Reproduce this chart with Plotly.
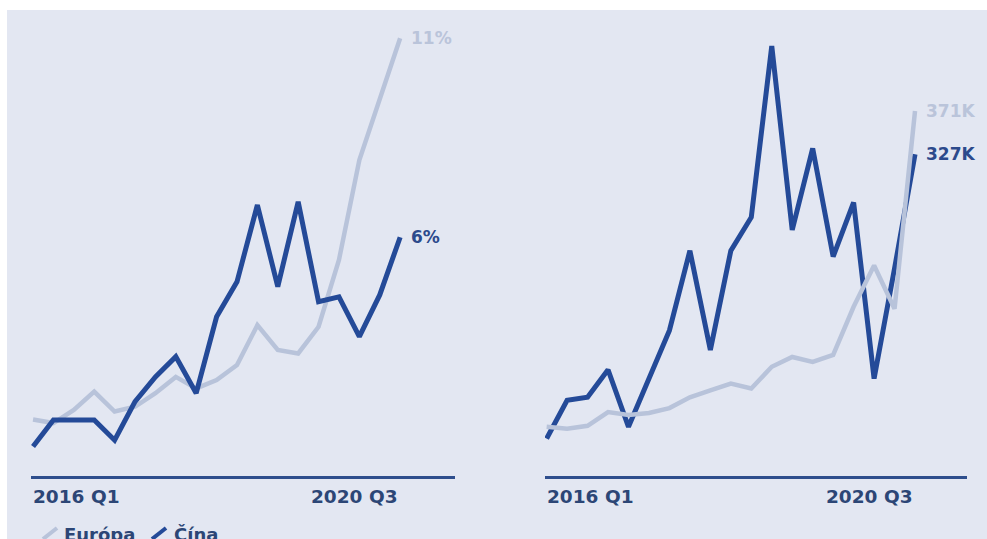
import plotly.graph_objects as go
from plotly.subplots import make_subplots

# Quarterly series, 2016 Q1 - 2020 Q3
quarters = [f"{y} Q{q}" for y in range(2016, 2021) for q in range(1, 5)][:19]

# Left panel: share in %
share_europa = [1.42, 1.33, 1.66, 2.12, 1.62, 1.74, 2.08, 2.49, 2.20, 2.41,
                2.79, 3.79, 3.17, 3.08, 3.75, 5.43, 7.94, 9.45, 11.0]
share_cina = [0.74, 1.41, 1.41, 1.41, 0.90, 1.87, 2.49, 3.00, 2.08, 4.00,
              4.88, 6.81, 4.76, 6.89, 4.38, 4.50, 3.50, 4.55, 6.0]

# Right panel: volume in thousands
volume_europa = [50, 48, 51, 65, 62, 64, 69, 80, 87, 94,
                 89, 111, 121, 116, 123, 172, 214, 170, 371]
volume_cina = [38, 77, 80, 108, 50, 99, 148, 229, 128, 229,
               263, 437, 250, 333, 223, 278, 99, 211, 327]

tick_labels = ["2016 Q1", "2020 Q3"]
series_names = ["Európa", "Čína"]

W, H = 987, 539
BG = "#E3E7F2"
DARK = "#244A98"
LIGHT = "#B8C3DA"
LIGHT_TXT = "#BAC4DA"
DARK_TXT = "#2C4A8C"
AXIS_TXT = "#2C4676"
AXIS_LINE = "#2E4E8D"
FONT = "DejaVu Sans"


def px_x(p):
    return p / W


def px_y(p):
    return (H - p) / H


fig = make_subplots(rows=1, cols=2)

# left panel: light series below, dark on top
fig.add_trace(go.Scatter(x=quarters, y=share_europa, mode="lines", name=series_names[0],
                         line=dict(color=LIGHT, width=4.5), showlegend=False), row=1, col=1)
fig.add_trace(go.Scatter(x=quarters, y=share_cina, mode="lines", name=series_names[1],
                         line=dict(color=DARK, width=5), showlegend=False), row=1, col=1)
# right panel: dark below, light on top
fig.add_trace(go.Scatter(x=quarters, y=volume_cina, mode="lines", name=series_names[1],
                         line=dict(color=DARK, width=5), showlegend=False), row=1, col=2)
fig.add_trace(go.Scatter(x=quarters, y=volume_europa, mode="lines", name=series_names[0],
                         line=dict(color=LIGHT, width=4.5), showlegend=False), row=1, col=2)

y_bottom, y_top = px_y(476), px_y(10)

common_x = dict(type="category", showgrid=False, zeroline=False, showticklabels=False,
                ticks="", showline=True, linewidth=3, linecolor=AXIS_LINE, fixedrange=True)
common_y = dict(visible=False, showgrid=False, zeroline=False, fixedrange=True,
                domain=[y_bottom, y_top])

fig.update_layout(
    xaxis=dict(common_x, domain=[px_x(31), px_x(455)], range=[-0.1, 20.69]),
    xaxis2=dict(common_x, domain=[px_x(545), px_x(967)], range=[-0.08, 20.54]),
    yaxis=dict(common_y, range=[0, 11.71]),
    yaxis2=dict(common_y, range=[0, 473.6]),
)

annotations = []

# x tick labels (first quarter left-aligned, last quarter right-aligned)
for xr in ["x", "x2"]:
    annotations.append(dict(x=quarters[0], xref=xr, y=px_y(496), yref="paper",
                            text=tick_labels[0], showarrow=False, xanchor="left",
                            yanchor="middle", xshift=-2,
                            font=dict(family=FONT, size=18.5, color=AXIS_TXT, weight="bold")))
    annotations.append(dict(x=quarters[-1], xref=xr, y=px_y(496), yref="paper",
                            text=tick_labels[1], showarrow=False, xanchor="right",
                            yanchor="middle", xshift=0,
                            font=dict(family=FONT, size=18.5, color=AXIS_TXT, weight="bold")))

# end-of-line value labels
end_labels = [
    ("x", "y", share_europa[-1], f"{share_europa[-1]:.0f}%", LIGHT_TXT),
    ("x", "y", share_cina[-1], f"{share_cina[-1]:.0f}%", DARK_TXT),
    ("x2", "y2", volume_europa[-1], f"{volume_europa[-1]:.0f}K", LIGHT_TXT),
    ("x2", "y2", volume_cina[-1], f"{volume_cina[-1]:.0f}K", DARK_TXT),
]
for xr, yr, val, txt, col in end_labels:
    annotations.append(dict(x=quarters[-1], xref=xr, y=val, yref=yr, text=txt,
                            showarrow=False, xanchor="left", yanchor="middle", xshift=9,
                            font=dict(family=FONT, size=17, color=col, weight="bold")))

# legend: diagonal stroke icons with labels along the bottom edge
legend_items = [(series_names[0], LIGHT, 43, 62), (series_names[1], DARK, 152, 172)]
shapes = [dict(type="rect", xref="paper", yref="paper", x0=px_x(7), x1=1.0,
               y0=0, y1=px_y(10), fillcolor=BG, line=dict(width=0), layer="below")]
for name, col, icon_x, text_x in legend_items:
    shapes.append(dict(type="line", xref="paper", yref="paper",
                       x0=px_x(icon_x), y0=px_y(539), x1=px_x(icon_x + 14), y1=px_y(528),
                       line=dict(color=col, width=4)))
    annotations.append(dict(x=px_x(text_x), xref="paper", y=px_y(534), yref="paper",
                            text=name, showarrow=False, xanchor="left", yanchor="middle",
                            font=dict(family=FONT, size=18, color=AXIS_TXT, weight="bold")))

fig.update_layout(
    width=W, height=H,
    margin=dict(l=0, r=0, t=0, b=0),
    paper_bgcolor="white",
    plot_bgcolor="rgba(0,0,0,0)",
    showlegend=False,
    shapes=shapes,
    annotations=annotations,
)

fig.write_html("out.html", config={"displayModeBar": False})
